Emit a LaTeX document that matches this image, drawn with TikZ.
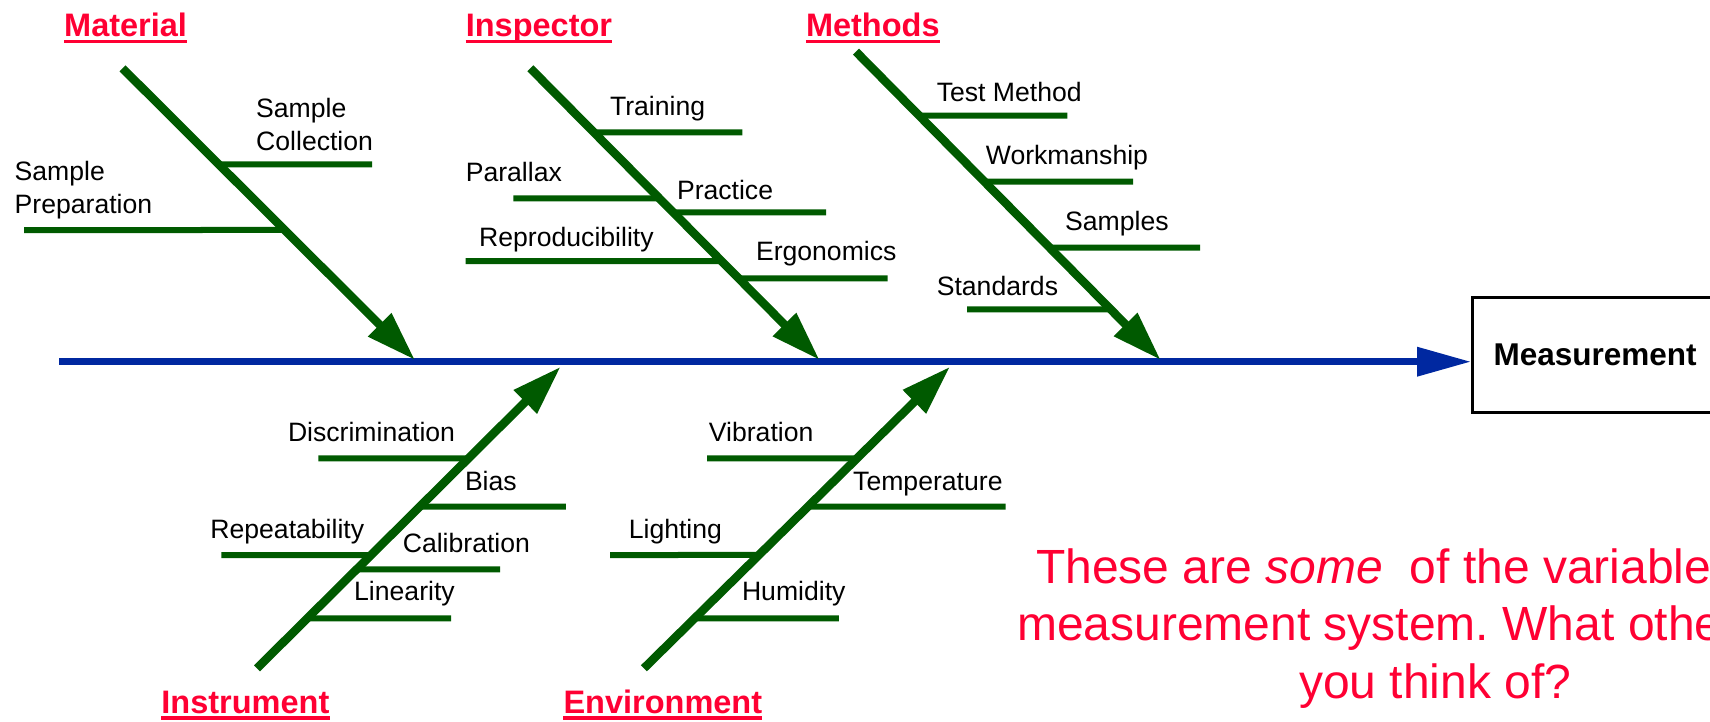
\documentclass[tikz,border=0pt]{standalone}
\usepackage{fontspec}
\setmainfont{Liberation Sans}
\usetikzlibrary{arrows.meta, positioning, calc}
\definecolor{cBone}{RGB}{0,90,0}
\definecolor{cSpine}{RGB}{0,40,160}
\definecolor{cHead}{RGB}{255,0,51}
\tikzset{
  spine/.style={line width=6.7pt, color=cSpine,
                -{Triangle[length=54pt,width=28pt]}},
  bone/.style={line width=8.5pt, color=cBone,
               -{Triangle[length=50pt,width=31pt]}},
  twig/.style={line width=6pt, color=cBone},
  headnode/.style={anchor=base west, inner sep=0pt, text=cHead,
                   font=\fontsize{32.5}{39}\selectfont\bfseries},
  uline/.style={line width=3.3pt, color=cHead},
  causenode/.style={anchor=base west, inner sep=0pt, align=left,
                    font=\fontsize{26.6}{33}\selectfont},
  effectnode/.style={rectangle, draw, line width=3pt, anchor=west,
                     minimum height=115pt, text width=230pt, inner xsep=21pt,
                     align=left, font=\fontsize{31.5}{38}\selectfont\bfseries},
  notenode/.style={anchor=base west, inner sep=0pt, text=cHead,
                   font=\fontsize{48}{58}\selectfont}
}
\frenchspacing
\begin{document}
\begin{tikzpicture}[x=1pt, y=-1pt]
  \clip (0,0) rectangle (1710,721);

  % effect box and spine
  \node[effectnode] (meas) at (1471,355.2) {Measurement};
  \coordinate (tail) at (59,361.7);
  \draw[spine] (tail) -- (tail -| meas.west);

  % main bones
  \foreach \bn/\sx/\sy/\ex/\ey in {mat/122.5/68.3/415/360, ins/530.4/68.3/819.6/360,
      met/856/51.7/1160.7/360, inst/257/668.3/560.7/366.7, env/643.9/668.3/950/366.7}{
    \coordinate (\bn S) at (\sx,\sy);
    \coordinate (\bn E) at (\ex,\ey);
  }

  % small bones with their causes (label at its last baseline)
  \foreach \bn/\tw/\y/\fx/\lx/\ly/\txt in {
      mat/col/164.3/372/256/150/{Sample\\Collection},
      mat/pre/230/24/14.5/213.3/{Sample\\Preparation},
      ins/tra/132.3/742.4/609.8/115.7/Training,
      ins/par/198.3/513.4/465.6/181.7/Parallax,
      ins/pra/212.3/826/676.8/199/Practice,
      ins/rep/261/465.6/479/246.7/Reproducibility,
      ins/erg/278.3/887.5/755.8/260/Ergonomics,
      met/tes/115.7/1067.4/936.6/101.7/Test Method,
      met/wor/181.7/1133/985.7/164/Workmanship,
      met/sam/247.7/1200/1065/230/Samples,
      met/sta/309.3/967/936.6/295/Standards,
      inst/dis/458.3/318.4/287.8/441.7/Discrimination,
      inst/bia/506.7/565.8/464.8/490/Bias,
      inst/rpt/555/221.4/210.2/538.3/Repeatability,
      inst/cal/569.3/500/402.6/552.3/Calibration,
      inst/lin/618.3/451/354/600.7/Linearity,
      env/vib/458.3/707/708.7/441.7/Vibration,
      env/tem/506.7/1005.5/853/490/Temperature,
      env/lig/555/610/628.6/538.3/Lighting,
      env/hum/618.3/838.8/741.8/600.7/Humidity}{
    \coordinate (\tw B) at (intersection of \bn S--\bn E and 0,\y--100,\y);
    \coordinate (\tw F) at (\fx,\y);
    \draw[twig] (\tw B) -- (\tw F);
    \node[causenode] (\tw T) at (\lx,\ly) {\txt};
  }

  \foreach \bn in {mat, ins, met, inst, env}
    \draw[bone] (\bn S) -- (\bn E);

  % category headings
  \foreach \hn/\x/\y/\txt in {hMat/64/36.7/Material, hIns/465.6/36.7/Inspector,
      hMet/805.8/36.7/Methods, hInst/161.2/713.5/Instrument, hEnv/563.3/713.5/Environment}{
    \node[headnode] (\hn) at (\x,\y) {\txt};
    \draw[uline] ([yshift=-4.5pt]\hn.base west) -- ([yshift=-4.5pt]\hn.base east);
  }

  % note
  \node[notenode] (note1) at (1036,583.3) {These are \textit{some}\ \ of the variable};
  \node[notenode] (note2) at (1017,640) {measurement system. What othe};
  \node[notenode] (note3) at (1299,698.3) {you think of?};
\end{tikzpicture}
\end{document}
